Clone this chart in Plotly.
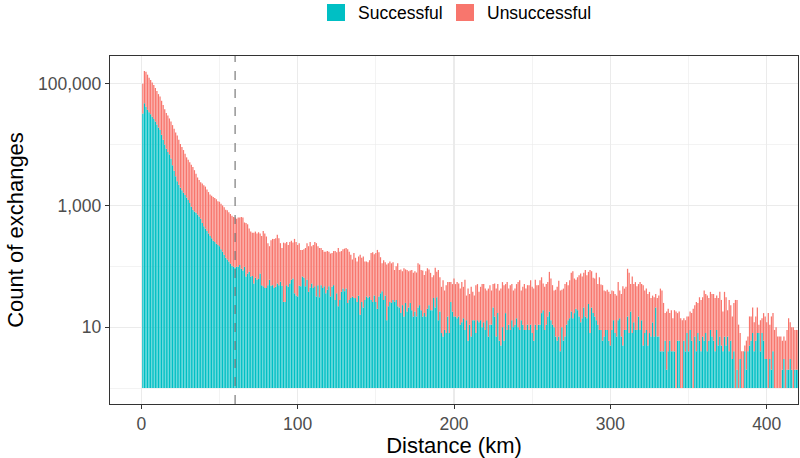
import plotly.graph_objects as go

# Distance bins (km)
km = list(range(1, 421))

# Visual top of the stacked bar (count of exchanges) per km
total = [
    100000, 162000, 158000, 141000, 126000, 115000, 105000, 95500, 85100, 75900,
    67600, 61700, 52500, 44700, 38000, 33100, 30200, 26900, 24000, 20900,
    18200, 15800, 14100, 12000, 10200, 9120, 8130, 7080, 6170, 5620,
    5130, 4680, 4270, 3800, 3310, 2880, 2630, 2400, 2290, 2140,
    2040, 1820, 1660, 1510, 1450, 1380, 1320, 1260, 1170, 1150,
    1070, 1000, 933, 851, 832, 776, 724, 676, 646, 631,
    603, 631, 631, 646, 631, 525, 513, 490, 417, 372,
    355, 355, 372, 347, 363, 347, 316, 380, 347, 309,
    240, 214, 269, 282, 282, 288, 331, 288, 240, 200,
    245, 240, 251, 224, 251, 263, 245, 282, 251, 224,
    240, 186, 186, 191, 200, 240, 214, 251, 214, 224,
    251, 240, 214, 200, 200, 186, 174, 174, 178, 174,
    162, 166, 178, 178, 170, 200, 174, 178, 191, 195,
    200, 191, 174, 155, 129, 166, 138, 120, 145, 155,
    138, 145, 120, 120, 117, 126, 166, 170, 158, 166,
    186, 170, 141, 112, 126, 117, 107, 112, 120, 112,
    117, 87, 100, 112, 87, 89, 83, 93, 89, 87,
    83, 85, 87, 78, 83, 79, 112, 107, 87, 85,
    72, 83, 93, 89, 78, 66, 71, 95, 81, 87,
    66, 46, 59, 40, 49, 55, 55, 55, 51, 63,
    51, 55, 52, 43, 55, 46, 60, 33, 43, 35,
    46, 38, 33, 49, 51, 38, 46, 51, 51, 43,
    40, 43, 49, 40, 51, 52, 43, 51, 40, 43,
    55, 49, 51, 55, 43, 49, 51, 40, 43, 51,
    55, 59, 40, 46, 51, 43, 49, 49, 59, 46,
    43, 60, 49, 49, 59, 66, 52, 46, 51, 55,
    81, 63, 49, 40, 41, 46, 58, 40, 41, 43,
    51, 55, 49, 59, 78, 83, 63, 60, 66, 71,
    76, 68, 78, 87, 71, 81, 87, 83, 65, 63,
    78, 51, 66, 50, 49, 40, 39, 41, 38, 35,
    40, 39, 35, 33, 55, 40, 35, 47, 43, 46,
    91, 78, 51, 68, 51, 55, 47, 51, 55, 51,
    49, 40, 43, 35, 38, 30, 33, 31, 35, 30,
    33, 43, 40, 25, 17, 18, 20, 17, 19, 14,
    19, 18, 17, 18, 14, 13, 14, 13, 15, 15,
    18, 17, 20, 23, 26, 25, 31, 28, 31, 40,
    35, 33, 30, 38, 35, 35, 30, 33, 30, 38,
    28, 18, 38, 31, 19, 28, 23, 15, 25, 28,
    28, 11, 8, 4, 4, 5, 6, 7, 15, 15,
    21, 12, 15, 21, 11, 13, 14, 17, 15, 12,
    17, 11, 15, 17, 9, 10, 7, 7, 7, 6,
    7, 6, 9, 14, 12, 10, 10, 9, 9, 9,
]

# Successful exchanges per km (bottom segment)
successful = [
    32400, 47900, 41700, 37200, 33900, 31600, 28800, 26300, 24000, 21400,
    19100, 17400, 14500, 12000, 10000, 8510, 7590, 6920, 5890, 4570,
    3720, 3020, 2510, 2190, 1950, 1780, 1620, 1480, 1350, 1230,
    1100, 955, 851, 794, 759, 708, 661, 603, 513, 457,
    417, 380, 347, 316, 288, 263, 251, 234, 224, 214,
    191, 174, 155, 138, 129, 120, 110, 102, 98, 95,
    98, 98, 105, 91, 85, 98, 68, 76, 81, 68,
    69, 52, 65, 60, 62, 76, 49, 47, 44, 44,
    49, 60, 48, 49, 44, 46, 52, 49, 56, 48,
    26, 26, 49, 46, 52, 60, 63, 36, 33, 32,
    48, 47, 68, 65, 47, 60, 38, 45, 52, 44,
    47, 32, 49, 31, 49, 44, 47, 36, 41, 47,
    32, 46, 49, 28, 36, 22, 28, 38, 43, 39,
    43, 25, 28, 30, 32, 30, 30, 26, 33, 16,
    26, 21, 28, 32, 30, 32, 28, 26, 33, 26,
    20, 32, 36, 39, 28, 33, 13, 22, 26, 25,
    28, 26, 28, 22, 21, 17, 23, 15, 25, 18,
    21, 25, 19, 15, 18, 15, 21, 23, 19, 15,
    17, 15, 20, 23, 19, 19, 30, 21, 31, 13,
    18, 8, 7, 9, 8, 15, 8, 26, 18, 15,
    15, 14, 15, 11, 12, 14, 9, 13, 6, 11,
    7, 13, 13, 8, 13, 12, 13, 10, 12, 9,
    13, 7, 11, 11, 21, 15, 7, 17, 6, 5,
    10, 6, 17, 9, 11, 9, 13, 10, 11, 14,
    10, 9, 13, 11, 9, 9, 11, 9, 11, 8,
    6, 11, 9, 11, 11, 17, 19, 9, 11, 15,
    18, 13, 11, 10, 7, 6, 7, 4, 10, 6,
    7, 11, 13, 14, 18, 14, 17, 20, 19, 15,
    12, 14, 21, 15, 14, 24, 8, 21, 17, 15,
    13, 11, 9, 9, 6, 7, 9, 9, 6, 5,
    9, 13, 8, 7, 13, 14, 7, 5, 9, 9,
    15, 8, 18, 8, 12, 9, 9, 15, 9, 13,
    5, 8, 9, 5, 8, 7, 12, 7, 21, 7,
    7, 4, 4, 4, 6, 2, 4, 6, 4, 4,
    4, 0, 6, 6, 0, 0, 6, 4, 8, 4,
    9, 6, 0, 7, 4, 8, 6, 4, 7, 6,
    8, 4, 6, 9, 7, 6, 4, 9, 5, 7,
    5, 4, 7, 5, 7, 4, 6, 3, 4, 0,
    2, 0, 3, 0, 0, 4, 2, 4, 5, 6,
    8, 4, 6, 8, 8, 4, 8, 6, 3, 3,
    0, 3, 2, 4, 0, 0, 0, 0, 0, 2,
    3, 0, 2, 2, 3, 2, 0, 2, 2, 2,
]

x_ticks = [0, 100, 200, 300, 400]
x_minor = [50, 150, 250, 350]
y_ticks = [10, 1000, 100000]
y_ticktext = ["10", "1,000", "100,000"]
y_minor = [1, 100, 10000]
cutoff_km = 60

TEAL = "#00BFC4"
RED = "#F8766D"
BAR_W = 0.8

teal_base = [1 for s in successful]
teal_h = [(s - 1) if s >= 1 else None for s in successful]
red_base = [max(s, 1) for s in successful]
red_h = [t - b for t, b in zip(total, red_base)]

fig = go.Figure()
fig.add_trace(go.Bar(x=km, y=teal_h, base=teal_base, marker=dict(color=TEAL, line=dict(width=0)),
                     width=BAR_W, name="Successful"))
fig.add_trace(go.Bar(x=km, y=red_h, base=red_base, marker=dict(color=RED, line=dict(width=0)),
                     width=BAR_W, name="Unsuccessful"))

L, R, T, B = 110, 2, 56, 54
W, H = 800, 458
pw, ph = W - L - R, H - T - B

def px(x):
    return (x - L) / pw

def py(y):
    return (H - B - y) / ph

shapes = [
    dict(type="line", xref="x", yref="paper", x0=cutoff_km, x1=cutoff_km, y0=0, y1=1,
         line=dict(color="#6E6E6E", width=1.1, dash="dash"), layer="above"),
    dict(type="rect", xref="paper", yref="paper", x0=px(327), x1=px(345), y0=py(21), y1=py(4),
         fillcolor=TEAL, line=dict(width=0)),
    dict(type="rect", xref="paper", yref="paper", x0=px(456), x1=px(474), y0=py(21), y1=py(4),
         fillcolor=RED, line=dict(width=0)),
]
annotations = [
    dict(text="Successful", xref="paper", yref="paper", x=px(356), y=py(12.5), xanchor="left",
         yanchor="middle", showarrow=False, font=dict(size=17.5, color="#000000")),
    dict(text="Unsuccessful", xref="paper", yref="paper", x=px(485), y=py(12.5), xanchor="left",
         yanchor="middle", showarrow=False, font=dict(size=17.5, color="#000000")),
]

fig.update_layout(
    width=W, height=H,
    margin=dict(l=L, r=R, t=T, b=B, pad=0),
    plot_bgcolor="white", paper_bgcolor="white",
    showlegend=False, barmode="overlay",
    font=dict(family="Liberation Sans, Arial, sans-serif", color="#000000"),
    shapes=shapes, annotations=annotations,
)
fig.update_xaxes(
    range=[-20, 420], tickvals=x_ticks, ticks="outside", ticklen=4, tickwidth=1,
    tickcolor="#333333", tickfont=dict(size=17.5, color="#4D4D4D"),
    showgrid=True, gridcolor="#EBEBEB", gridwidth=1.2, zeroline=False,
    showline=True, mirror=True, linecolor="#333333", linewidth=1.2,
    minor=dict(tickvals=x_minor, showgrid=True, gridcolor="#EBEBEB", gridwidth=0.6, ticks=""),
    title=dict(text="Distance (km)", font=dict(size=22, color="#000000"), standoff=6),
)
fig.update_yaxes(
    type="log", range=[-0.263, 5.456], tickvals=y_ticks, ticktext=y_ticktext,
    ticks="outside", ticklen=4, tickwidth=1, tickcolor="#333333",
    tickfont=dict(size=17.5, color="#4D4D4D"),
    showgrid=True, gridcolor="#EBEBEB", gridwidth=1.2, zeroline=False,
    showline=True, mirror=True, linecolor="#333333", linewidth=1.2,
    minor=dict(tickvals=y_minor, showgrid=True, gridcolor="#EBEBEB", gridwidth=0.6, ticks=""),
    title=dict(text="Count of exchanges", font=dict(size=22, color="#000000"), standoff=8),
)

fig.write_html("out.html", config={"staticPlot": True})
